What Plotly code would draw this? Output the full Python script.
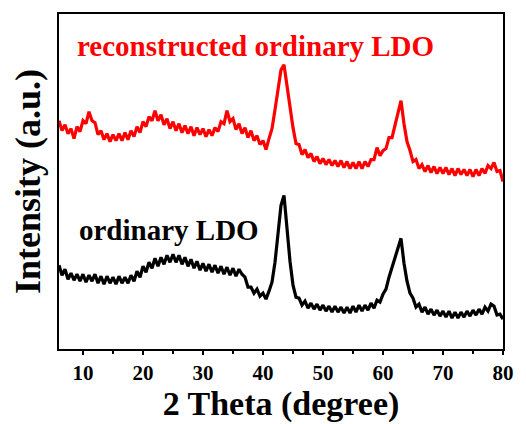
import plotly.graph_objects as go

two_theta = [6.0 + 0.5 * i for i in range(149)]

reconstructed_ldo = [
    229, 219, 225, 216, 221, 211, 223, 218, 229, 226, 238, 229, 227, 215, 219, 210,
    216, 208, 215, 209, 216, 209, 217, 210, 219, 213, 223, 217, 228, 223, 233, 229,
    239, 229, 235, 225, 231, 221, 228, 219, 226, 217, 224, 216, 223, 214, 222, 215,
    221, 213, 220, 214, 222, 218, 228, 226, 239, 228, 231, 220, 226, 216, 222, 212,
    219, 209, 214, 205, 209, 200, 211, 221, 240, 262, 280, 285, 264, 240, 222, 206,
    205, 195, 200, 192, 196, 188, 193, 186, 191, 185, 190, 184, 189, 183, 189, 182,
    188, 181, 187, 181, 188, 181, 188, 183, 190, 190, 202, 194, 199, 201, 212, 212,
    224, 238, 249, 226, 208, 199, 188, 190, 181, 185, 178, 184, 177, 183, 176, 182,
    176, 182, 175, 181, 174, 181, 175, 180, 174, 180, 173, 180, 174, 181, 176, 184,
    181, 187, 178, 179, 168,
]

ordinary_ldo = [
    84, 74, 80, 70, 76, 69, 75, 68, 75, 67, 74, 68, 75, 66, 73, 65,
    73, 66, 72, 65, 73, 66, 72, 66, 74, 68, 78, 72, 83, 77, 87, 81,
    91, 83, 92, 85, 94, 87, 95, 87, 94, 85, 92, 83, 90, 81, 88, 79,
    86, 78, 85, 77, 84, 76, 83, 75, 82, 74, 81, 73, 80, 75, 72, 62,
    62, 56, 60, 53, 56, 50, 58, 67, 87, 114, 144, 154, 119, 88, 64, 52,
    51, 44, 48, 41, 46, 40, 45, 39, 44, 38, 43, 37, 43, 37, 42, 36,
    42, 36, 43, 37, 44, 38, 44, 39, 46, 41, 49, 47, 55, 60, 72, 82,
    90, 102, 111, 86, 68, 56, 51, 42, 45, 37, 42, 35, 40, 34, 39, 33,
    38, 32, 38, 31, 37, 31, 37, 32, 38, 33, 39, 34, 40, 35, 42, 38,
    45, 43, 34, 35, 30,
]

x_ticks = [10, 20, 30, 40, 50, 60, 70, 80]
labels = ["reconstructed ordinary LDO", "ordinary LDO"]
FONT = "Liberation Serif, Times New Roman, serif"

fig = go.Figure()
fig.add_trace(go.Scatter(x=two_theta, y=reconstructed_ldo, mode="lines",
                         line=dict(color="#ff0000", width=3.2), name=labels[0]))
fig.add_trace(go.Scatter(x=two_theta, y=ordinary_ldo, mode="lines",
                         line=dict(color="#000000", width=3.2), name=labels[1]))

fig.update_layout(
    width=526, height=424,
    margin=dict(l=59, r=20, t=13, b=75),
    paper_bgcolor="white", plot_bgcolor="white",
    showlegend=False,
    font=dict(family=FONT, color="black"),
    xaxis=dict(
        range=[6, 80], tickvals=x_ticks, ticktext=[str(t) for t in x_ticks],
        ticks="outside", ticklen=4, tickwidth=1.5, tickcolor="black",
        minor=dict(tickvals=[15, 25, 35, 45, 55, 65, 75], ticks="outside", ticklen=3, tickwidth=1.5, tickcolor="black"),
        showline=True, linecolor="black", linewidth=1.5, mirror=True,
        showgrid=False, zeroline=False,
        tickfont=dict(family=FONT, size=21, color="black", weight="bold"),
        title=dict(text="<b>2 Theta (degree)</b>", font=dict(family=FONT, size=34, color="black"), standoff=2),
    ),
    yaxis=dict(
        range=[0, 336], showticklabels=False, ticks="",
        showline=True, linecolor="black", linewidth=1.5, mirror=True,
        showgrid=False, zeroline=False,
        title=dict(text="<b>Intensity (a.u.)</b>", font=dict(family=FONT, size=36, color="black"), standoff=6),
    ),
)

fig.add_annotation(text="<b>" + labels[0] + "</b>", xref="paper", yref="paper",
                   x=(75 - 59) / 447, y=(349 - 45) / 336, xanchor="left", yanchor="middle",
                   showarrow=False, font=dict(family=FONT, size=29, color="#ff0000"))
fig.add_annotation(text="<b>" + labels[1] + "</b>", xref="paper", yref="paper",
                   x=(77 - 59) / 447, y=(349 - 230) / 336, xanchor="left", yanchor="middle",
                   showarrow=False, font=dict(family=FONT, size=29, color="black"))

fig.write_html("out.html")
